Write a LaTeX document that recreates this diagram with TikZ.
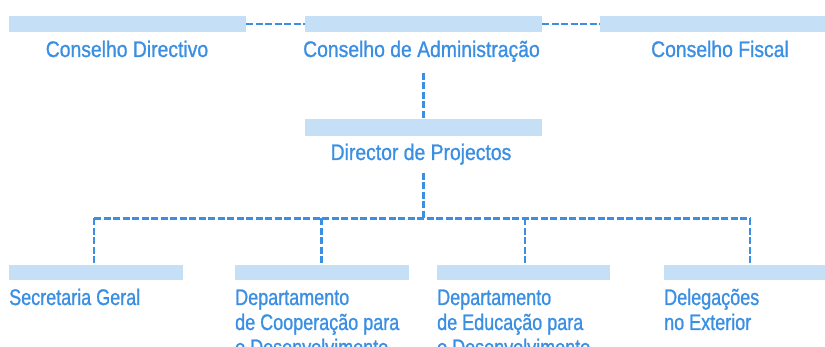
\documentclass[tikz,border=0pt]{standalone}
\usepackage{fontspec}
\newfontfamily\topf{Liberation Sans}[FakeStretch=0.86,FakeBold=1]
\newfontfamily\botf{Liberation Sans}[FakeStretch=0.8,FakeBold=1]
\definecolor{barblue}{HTML}{C5DFF7}
\definecolor{lineblue}{HTML}{3A8FE3}
\begin{document}
\begin{tikzpicture}[x=1pt,y=-1pt,
  bar/.style={fill=barblue,draw=none,inner sep=0pt,minimum height=16pt},
  lbl/.style={text=lineblue,inner sep=0pt,font=\topf\fontsize{22.5}{25}\selectfont,anchor=base},
  blbl/.style={text=lineblue,inner sep=0pt,font=\botf\fontsize{22.5}{25}\selectfont,anchor=base west},
  conn/.style={draw=lineblue,line width=2.6pt,dash pattern=on 7pt off 2.5pt}]
\useasboundingbox (0,0) rectangle (825,347);
% top bars
\node[bar,minimum width=237pt] (b1) at (127.5,24) {};
\node[bar,minimum width=237pt] (b2) at (423.5,24) {};
\node[bar,minimum width=225pt] (b3) at (712.5,24) {};
\node[lbl] (t1) at (127,57) {Conselho Directivo};
\node[lbl] (t2) at (421.5,57) {Conselho de Administração};
\node[lbl] (t3) at (720,57) {Conselho Fiscal};
% director
\node[bar,minimum width=237pt,minimum height=17pt] (d) at (423.5,127.5) {};
\node[lbl] (td) at (421,160) {Director de Projectos};
% bottom bars
\node[bar,minimum width=174pt,minimum height=15pt] (s1) at (96,272.5) {};
\node[bar,minimum width=174pt,minimum height=15pt] (s2) at (322,272.5) {};
\node[bar,minimum width=173pt,minimum height=15pt] (s3) at (523.5,272.5) {};
\node[bar,minimum width=161pt,minimum height=15pt] (s4) at (744.5,272.5) {};
\node[blbl] (u1) at (9,305) {Secretaria Geral};
\node[blbl] (u2) at (235,305) {\begin{tabular}[t]{@{}l@{}}Departamento\\de Cooperação para\\o Desenvolvimento\end{tabular}};
\node[blbl] (u3) at (437,305) {\begin{tabular}[t]{@{}l@{}}Departamento\\de Educação para\\o Desenvolvimento\end{tabular}};
\node[blbl] (u4) at (664,305) {\begin{tabular}[t]{@{}l@{}}Delegações\\no Exterior\end{tabular}};
% connectors
\coordinate (c1) at (423.5,73);
\coordinate (c2) at (423.5,173);
\coordinate (j) at (423.5,218.5);
\coordinate (l1) at (94,218.5);
\coordinate (l2) at (321.5,218.5);
\coordinate (l3) at (525,218.5);
\coordinate (l4) at (750,218.5);
\draw[conn] (b1.east) -- (b2.west);
\draw[conn] (b2.east) -- (b3.west);
\draw[conn] (c1) -- (d.north);
\draw[conn] (c2) -- (j);
\draw[conn] (l1) -- (l4);
\draw[conn] (l1) -- (l1 |- s1.north);
\draw[conn] (l2) -- (l2 |- s2.north);
\draw[conn] (l3) -- (l3 |- s3.north);
\draw[conn] (l4) -- (l4 |- s4.north);
\end{tikzpicture}
\end{document}
